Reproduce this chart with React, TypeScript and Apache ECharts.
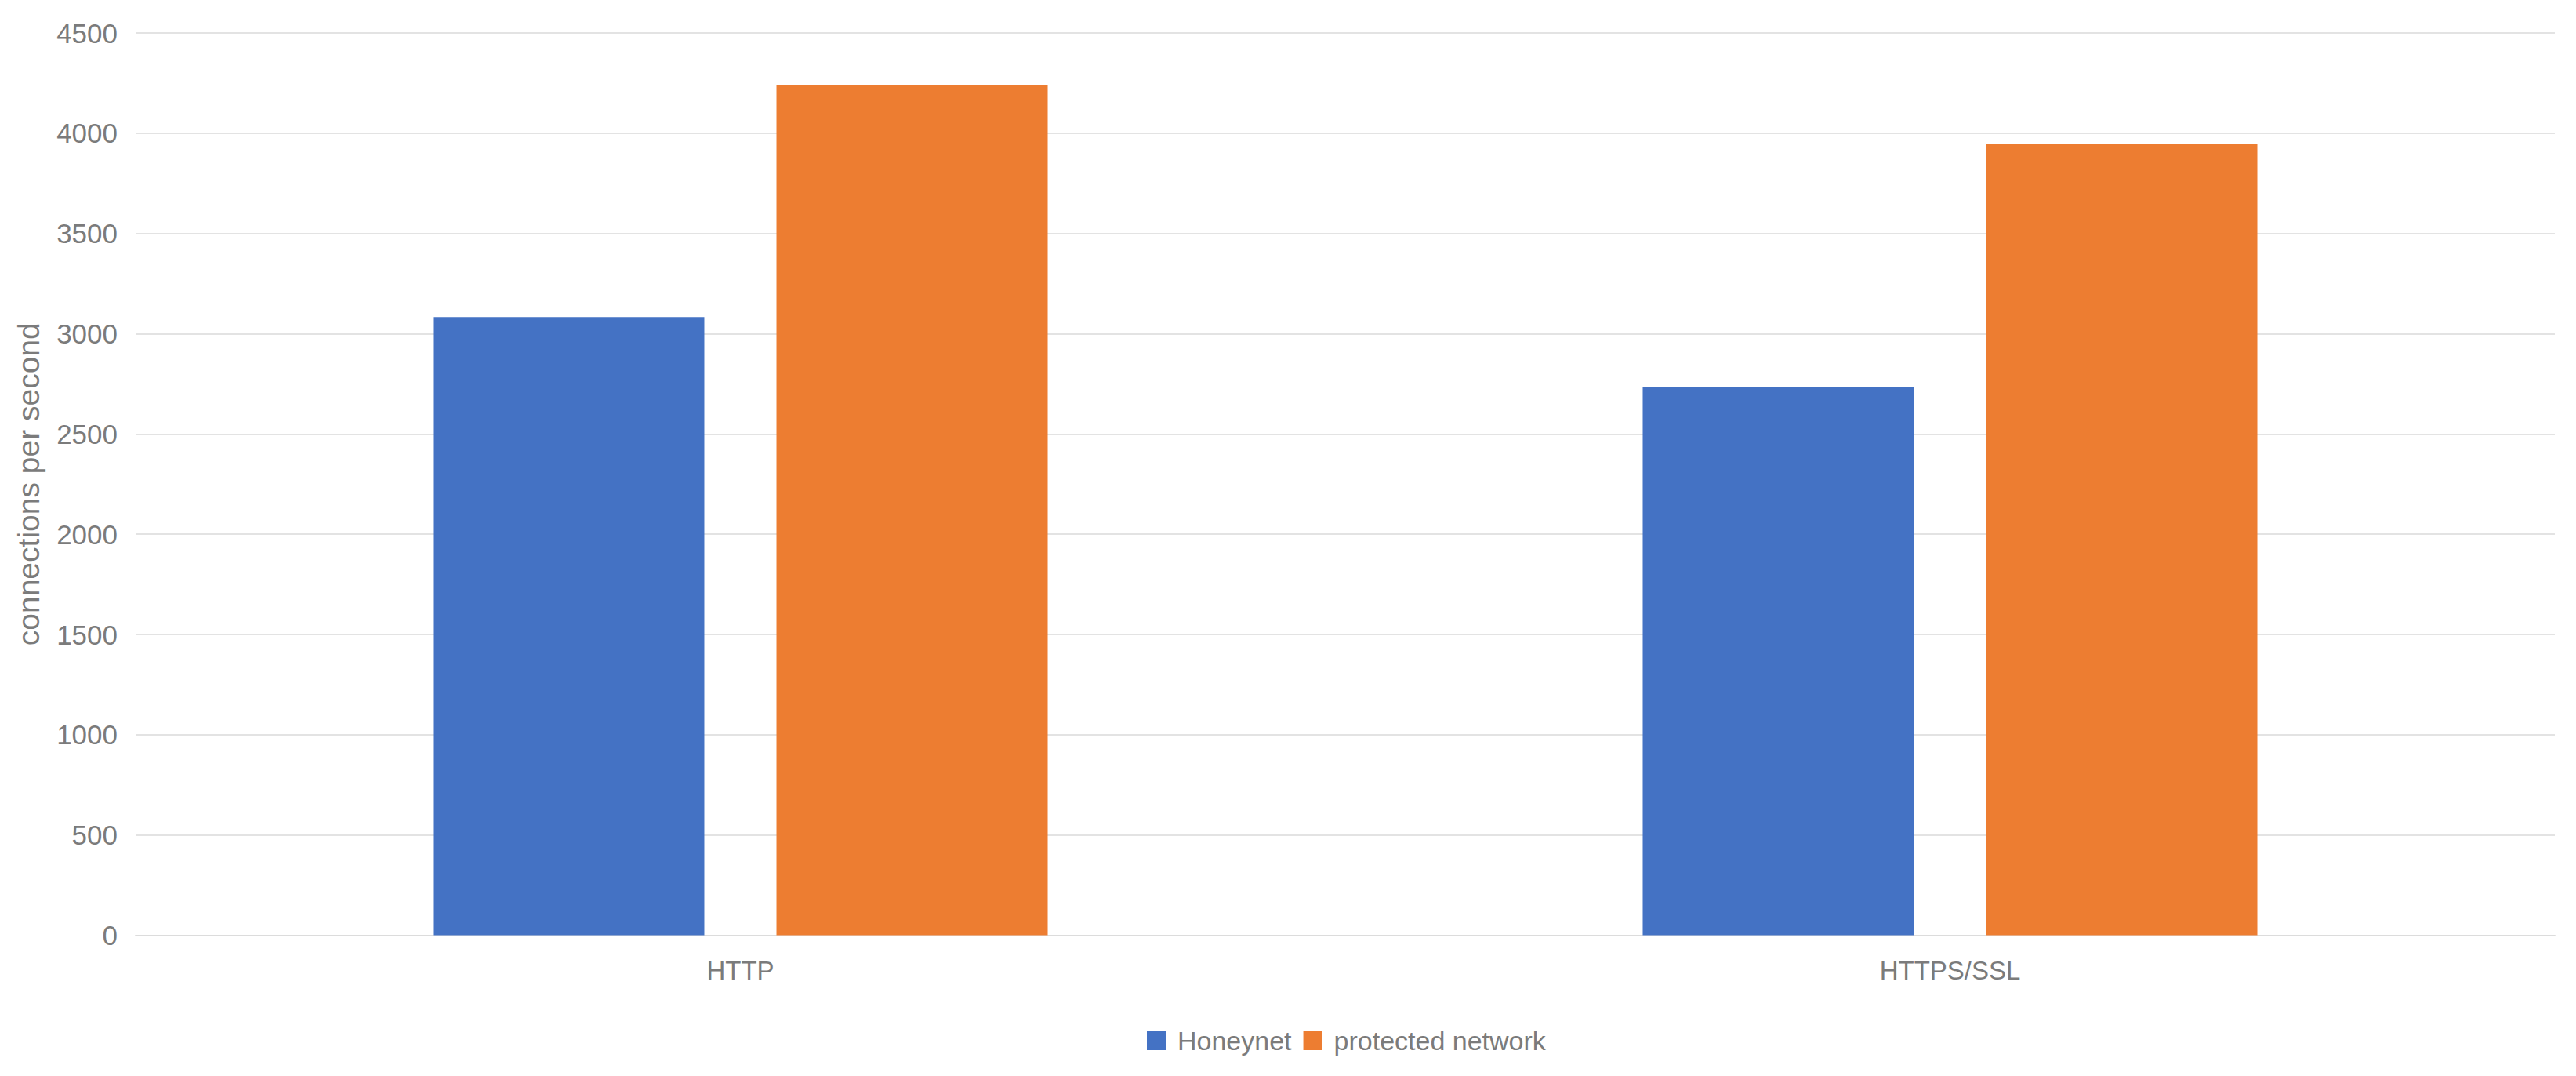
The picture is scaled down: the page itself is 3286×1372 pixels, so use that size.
import React, { useEffect, useRef } from "react";
import * as echarts from "echarts";

const categories = ["HTTP", "HTTPS/SSL"];
const honeynet = [3083, 2732];
const protectedNetwork = [4240, 3947];
const seriesNames = ["Honeynet", "protected network"];
const yTicks = { min: 0, max: 4500, interval: 500 };
const yTitle = "connections per second";

export default function App() {
  const ref = useRef<HTMLDivElement>(null);
  useEffect(() => {
    if (!ref.current) return;
    const chart = echarts.init(ref.current, undefined, { renderer: "svg" });
    const font = "'Liberation Sans', Arial, sans-serif";
    const textColor = "#7b7b7b";
    chart.setOption({
      animation: false,
      backgroundColor: "#ffffff",
      grid: { left: 173, right: 27, top: 42, bottom: 179.5, containLabel: false },
      legend: {
        data: seriesNames,
        left: 1463,
        top: 1310,
        padding: 0,
        itemWidth: 24,
        itemHeight: 24,
        itemGap: 15,
        icon: "rect",
        textStyle: { fontFamily: font, fontSize: 34, color: textColor, padding: [0, 0, 0, 10] },
      },
      xAxis: {
        type: "category",
        data: categories,
        axisLine: { show: true, lineStyle: { color: "#dcdcdc", width: 2 } },
        axisTick: { show: false },
        axisLabel: { fontFamily: font, fontSize: 33, color: textColor, margin: 28 },
      },
      yAxis: {
        type: "value",
        min: yTicks.min,
        max: yTicks.max,
        interval: yTicks.interval,
        name: yTitle,
        nameLocation: "middle",
        nameGap: 117,
        nameTextStyle: { fontFamily: font, fontSize: 39, color: textColor },
        axisLine: { show: false },
        axisTick: { show: false },
        axisLabel: {
          fontFamily: font,
          fontSize: 35,
          color: textColor,
          margin: 23,
          formatter: (v: number) => String(v),
        },
        splitLine: { show: true, lineStyle: { color: "#e3e3e3", width: 2 } },
      },
      series: [
        {
          name: seriesNames[0],
          type: "bar",
          data: honeynet,
          barWidth: 346,
          barGap: "26.6%",
          itemStyle: { color: "#4472C4" },
        },
        {
          name: seriesNames[1],
          type: "bar",
          data: protectedNetwork,
          barWidth: 346,
          barGap: "26.6%",
          itemStyle: { color: "#ED7D31" },
        },
      ],
    });
    return () => chart.dispose();
  }, []);
  return (
    <div
      ref={ref}
      style={{ position: "fixed", left: 0, top: 0, width: 3286, height: 1372, background: "#fff" }}
    />
  );
}
